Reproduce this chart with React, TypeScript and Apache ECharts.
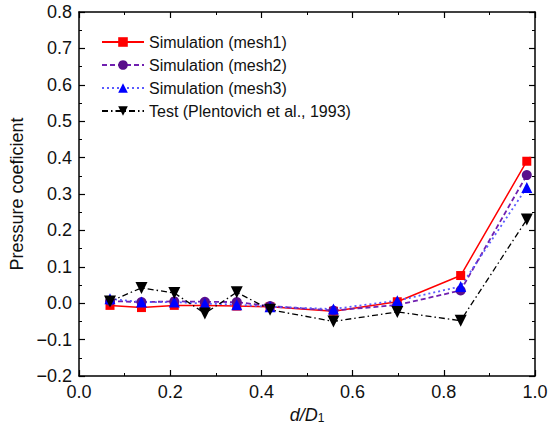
import React, { useEffect, useRef } from "react";
import * as echarts from "echarts";

const xPositions = [0.068, 0.137, 0.209, 0.276, 0.346, 0.419, 0.558, 0.698, 0.837, 0.982];
const mesh1 = [-0.006, -0.012, -0.006, -0.006, -0.008, -0.01, -0.022, 0.004, 0.076, 0.39];
const mesh2 = [0.006, 0.003, 0.005, 0.004, 0.003, -0.008, -0.02, -0.005, 0.035, 0.352];
const mesh3 = [0.012, 0.003, 0.003, -0.001, -0.004, -0.01, -0.016, 0.007, 0.046, 0.318];
const test = [0.005, 0.042, 0.028, -0.028, 0.03, -0.018, -0.05, -0.024, -0.048, 0.23];

const seriesNames = [
  "Simulation (mesh1)",
  "Simulation (mesh2)",
  "Simulation (mesh3)",
  "Test (Plentovich et al., 1993)",
];

const pair = (ys: number[]) => xPositions.map((x, i) => [x, ys[i]]);

const fmt = (v: number) => (v < 0 ? "\u2212" + Math.abs(v).toFixed(1) : v.toFixed(1));

export default function App() {
  const ref = useRef<HTMLDivElement>(null);
  useEffect(() => {
    if (!ref.current) return;
    const chart = echarts.init(ref.current, null, { renderer: "svg" });
    const font = "Liberation Sans, Arial, sans-serif";
    const axisCommon = {
      axisLine: { show: true, onZero: false, lineStyle: { color: "#000", width: 1.5 } },
      axisTick: { show: true, inside: true, length: 6, lineStyle: { color: "#000", width: 1.2 } },
      minorTick: { show: true, splitNumber: 2, length: 3, lineStyle: { color: "#000", width: 1 } },
      splitLine: { show: false },
    };
    chart.setOption({
      animation: false,
      backgroundColor: "#fff",
      grid: { left: 79, right: 21, top: 12, bottom: 52, containLabel: false, outerBoundsMode: "none" },
      legend: {
        show: true,
        data: seriesNames,
        orient: "vertical",
        left: 96,
        top: 29,
        itemWidth: 42,
        itemHeight: 12,
        itemGap: 7,
        textStyle: { fontFamily: font, fontSize: 16, color: "#111", lineHeight: 16 },
      },
      xAxis: [
        {
          type: "value",
          min: 0,
          max: 1,
          interval: 0.2,
          position: "bottom",
          ...axisCommon,
          axisLabel: { fontFamily: font, fontSize: 18, color: "#111", margin: 7, formatter: fmt },
          name: "{i|d/D}{s|1}",
          nameLocation: "middle",
          nameGap: 30,
          nameTextStyle: {
            rich: {
              i: { fontFamily: font, fontSize: 18, fontStyle: "italic", color: "#111", lineHeight: 18 },
              s: { fontFamily: font, fontSize: 12, color: "#111", lineHeight: 18, verticalAlign: "bottom", padding: [5, 0, 0, 0] },
            },
          },
        },
        {
          type: "value",
          min: 0,
          max: 1,
          interval: 0.2,
          position: "top",
          ...axisCommon,
          axisLabel: { show: false },
        },
      ],
      yAxis: [
        {
          type: "value",
          min: -0.2,
          max: 0.8,
          interval: 0.1,
          position: "left",
          ...axisCommon,
          axisLabel: { fontFamily: font, fontSize: 18, color: "#111", margin: 7, formatter: fmt },
          name: "Pressure coeficient",
          nameLocation: "middle",
          nameGap: 44,
          nameTextStyle: { fontFamily: font, fontSize: 18, color: "#111" },
        },
        {
          type: "value",
          min: -0.2,
          max: 0.8,
          interval: 0.1,
          position: "right",
          ...axisCommon,
          axisLabel: { show: false },
        },
      ],
      series: [
        {
          name: seriesNames[0],
          type: "line",
          data: pair(mesh1),
          symbol: "rect",
          symbolSize: 9,
          itemStyle: { color: "#ff0000" },
          lineStyle: { color: "#ff0000", width: 1.5, type: "solid" },
        },
        {
          name: seriesNames[1],
          type: "line",
          data: pair(mesh2),
          symbol: "circle",
          symbolSize: 10,
          itemStyle: { color: "#5a0f8c" },
          lineStyle: { color: "#7020b0", width: 1.8, type: [5, 3] },
        },
        {
          name: seriesNames[2],
          type: "line",
          data: pair(mesh3),
          symbol: "triangle",
          symbolSize: 11,
          itemStyle: { color: "#0000ff" },
          lineStyle: { color: "#5a5aff", width: 1.8, type: [2, 3] },
        },
        {
          name: seriesNames[3],
          type: "line",
          data: pair(test),
          symbol: "triangle",
          symbolRotate: 180,
          symbolSize: 12,
          itemStyle: { color: "#000" },
          lineStyle: { color: "#000", width: 1.3, type: [6, 3, 1.5, 3] },
        },
      ],
    });
    return () => chart.dispose();
  }, []);
  return <div ref={ref} style={{ width: 556, height: 428, position: "absolute", left: 0, top: 0 }} />;
}
